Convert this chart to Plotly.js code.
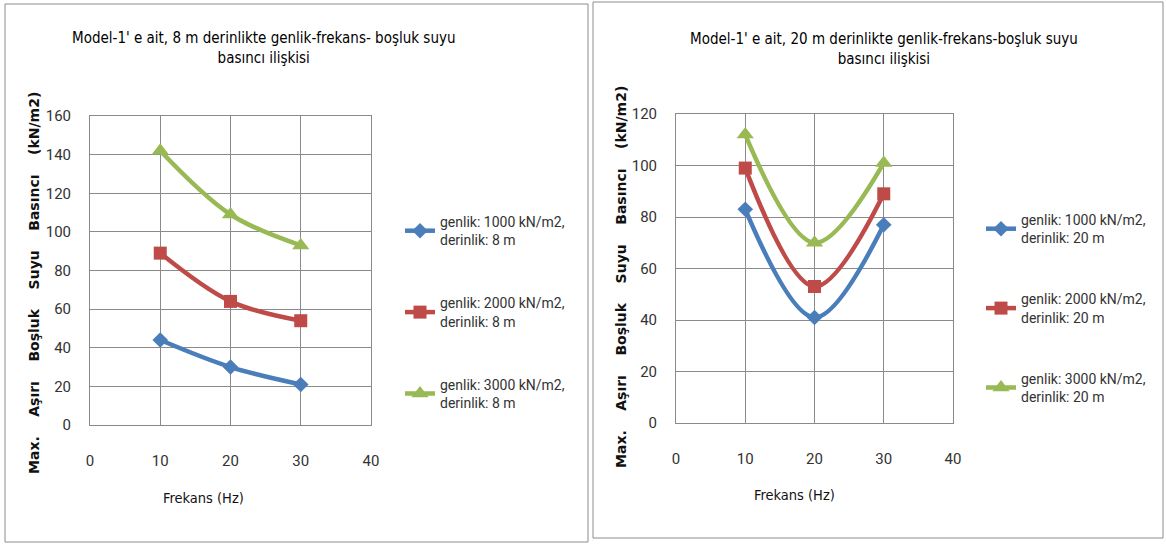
<!DOCTYPE html>
<html>
<head>
<meta charset="utf-8">
<script src="https://cdn.plot.ly/plotly-3.0.1.min.js"></script>
<style>html,body{margin:0;padding:0;background:#fff;}#chart{width:1166px;height:544px;}</style>
</head>
<body>
<div id="chart"></div>
<script>
// ---- data ----
const frekans = [10, 20, 30];
const xTicks = [0, 10, 20, 30, 40];

// 8 m depth (left chart)
const g1000_8m = [44, 30, 21];
const g2000_8m = [89, 64, 54];
const g3000_8m = [142, 109, 93];

// 20 m depth (right chart)
const g1000_20m = [83, 41, 77];
const g2000_20m = [99, 53, 89];
const g3000_20m = [112, 70, 101];

const names8 = ["genlik: 1000 kN/m2,<br>derinlik: 8 m", "genlik: 2000 kN/m2,<br>derinlik: 8 m", "genlik: 3000 kN/m2,<br>derinlik: 8 m"];
const names20 = ["genlik: 1000 kN/m2,<br>derinlik: 20 m", "genlik: 2000 kN/m2,<br>derinlik: 20 m", "genlik: 3000 kN/m2,<br>derinlik: 20 m"];

const title8 = "Model-1' e ait, 8 m derinlikte genlik-frekans- boşluk suyu<br>basıncı ilişkisi";
const title20 = "Model-1' e ait, 20 m derinlikte genlik-frekans-boşluk suyu<br>basıncı ilişkisi";
const sp = "&nbsp;&nbsp;&nbsp;&nbsp;";
const yTitle = ["Max.", "Aşırı", "Boşluk", "Suyu", "Basıncı", "(kN/m2)"].join(sp);
const xTitle = "Frekans (Hz)";

// ---- styles ----
const colors = ["#4A7EBB", "#BE4B48", "#98B954"];
const symbols = ["diamond", "square", "triangle-up"];
const msizes = [12, 13, 15];
const W = 1166, H = 544;
const narrow = "'DejaVu Sans Condensed', 'Liberation Sans Narrow', Roboto, sans-serif";
const tickFam = "Roboto, sans-serif";

function mk(y, i, name, xa, ya, lg) {
  return {
    x: frekans, y: y, name: name, xaxis: xa, yaxis: ya, legend: lg,
    legendgroup: lg + i,
    type: "scatter", mode: "lines+markers",
    line: {color: colors[i], width: 4.5, shape: "spline", smoothing: 1},
    marker: {color: colors[i], symbol: symbols[i], size: msizes[i]}
  };
}

const traces = [
  mk(g1000_8m, 0, names8[0], "x", "y", "legend"),
  mk(g2000_8m, 1, names8[1], "x", "y", "legend"),
  mk(g3000_8m, 2, names8[2], "x", "y", "legend"),
  mk(g1000_20m, 0, names20[0], "x2", "y2", "legend2"),
  mk(g2000_20m, 1, names20[1], "x2", "y2", "legend2"),
  mk(g3000_20m, 2, names20[2], "x2", "y2", "legend2")
];

const px = v => v / W, py = v => 1 - v / H;

const gridc = "#8a8a8a";
function xax(d0, d1, anchor) {
  return {domain: [px(d0), px(d1)], anchor: anchor, range: [0, 40], tickvals: xTicks,
    showgrid: true, gridcolor: gridc, gridwidth: 1, zeroline: false,
    showline: true, linecolor: gridc, mirror: true, ticks: "", ticklabelstandoff: 22,
    tickfont: {family: tickFam, size: 15, color: "#333"}, fixedrange: true};
}
function yax(t0, t1, max, anchor) {
  return {domain: [py(t1), py(t0)], anchor: anchor, range: [0, max], dtick: 20,
    showgrid: true, gridcolor: gridc, gridwidth: 1, zeroline: false,
    showline: true, linecolor: gridc, mirror: true, ticks: "", ticklabelstandoff: 15,
    tickfont: {family: tickFam, size: 15, color: "#333"}, fixedrange: true};
}

const legendFont = {family: tickFam, size: 14, color: "#333"};
const layout = {
  width: W, height: H,
  margin: {l: 0, r: 0, t: 0, b: 0},
  paper_bgcolor: "#fff", plot_bgcolor: "#fff",
  xaxis: xax(90, 371, "y"),
  yaxis: yax(116, 425, 160, "x"),
  xaxis2: xax(676, 953, "y2"),
  yaxis2: yax(114, 423, 120, "x2"),
  legend: {x: px(400), y: py(206), xanchor: "left", yanchor: "top", traceorder: "grouped",
    tracegroupgap: 42, font: legendFont, bgcolor: "rgba(0,0,0,0)", itemwidth: 30},
  legend2: {x: px(981), y: py(204), xanchor: "left", yanchor: "top", traceorder: "grouped",
    tracegroupgap: 40, font: legendFont, bgcolor: "rgba(0,0,0,0)", itemwidth: 30},
  shapes: [
    {type: "rect", xref: "paper", yref: "paper", x0: px(5), x1: px(588), y0: py(542), y1: py(4),
      line: {color: "#8c8c8c", width: 1}},
    {type: "rect", xref: "paper", yref: "paper", x0: px(593), x1: px(1163), y0: py(538), y1: py(2),
      line: {color: "#8c8c8c", width: 1}}
  ],
  annotations: [
    {text: title8, xref: "paper", yref: "paper", x: px(263), y: py(48), xanchor: "center", yanchor: "middle",
      showarrow: false, font: {family: narrow, size: 15, color: "#000"}, align: "center"},
    {text: title20, xref: "paper", yref: "paper", x: px(884), y: py(49), xanchor: "center", yanchor: "middle",
      showarrow: false, font: {family: narrow, size: 15, color: "#000"}, align: "center"},
    {text: xTitle, xref: "paper", yref: "paper", x: px(203), y: py(498), xanchor: "center", yanchor: "middle",
      showarrow: false, font: {family: narrow, size: 14.5, color: "#111"}},
    {text: xTitle, xref: "paper", yref: "paper", x: px(794), y: py(495), xanchor: "center", yanchor: "middle",
      showarrow: false, font: {family: narrow, size: 14.5, color: "#111"}},
    {text: "<b>" + yTitle + "</b>", xref: "paper", yref: "paper", x: px(34), y: py(283), textangle: -90,
      xanchor: "center", yanchor: "middle",
      showarrow: false, font: {family: "'DejaVu Sans', Verdana, sans-serif", size: 14, color: "#111"}},
    {text: "<b>" + yTitle + "</b>", xref: "paper", yref: "paper", x: px(621), y: py(277), textangle: -90,
      xanchor: "center", yanchor: "middle",
      showarrow: false, font: {family: "'DejaVu Sans', Verdana, sans-serif", size: 14, color: "#111"}}
  ]
};

Plotly.newPlot("chart", traces, layout, {staticPlot: true, displayModeBar: false});
</script>
</body>
</html>
